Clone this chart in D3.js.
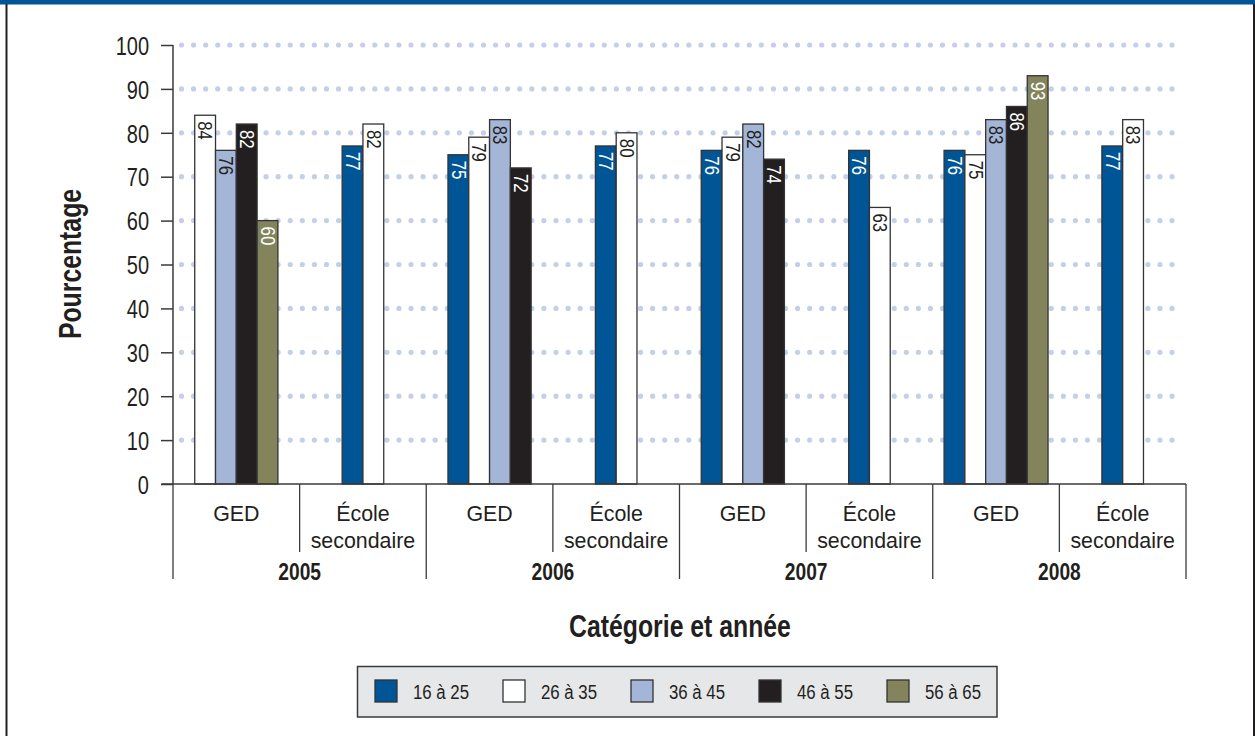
<!DOCTYPE html>
<html>
<head>
<meta charset="utf-8">
<script src="https://cdn.jsdelivr.net/npm/d3@7"></script>
<style>
  body { margin: 0; background: #fff; }
  svg { display: block; }
  text { font-family: "Liberation Sans", Arial, sans-serif; fill: #231f20; }
</style>
</head>
<body>
<script>
'use strict';
(function () {
  // data
  const years = ["2005", "2006", "2007", "2008"];
  const types = ["GED", "École secondaire"];
  const seriesNames = ["16 à 25", "26 à 35", "36 à 45", "46 à 55", "56 à 65"];
  const seriesColors = ["#005596", "#ffffff", "#a4b6d8", "#231f20", "#83845c"];
  const labelColors = ["#ffffff", "#231f20", "#231f20", "#ffffff", "#ffffff"];
  // one value per category: 2005 GED, 2005 École, 2006 GED, ...
  const s16 = [null, 77, 75, 77, 76, 76, 76, 77];
  const s26 = [84, 82, 79, 80, 79, 63, 75, 83];
  const s36 = [76, null, 83, null, 82, null, 83, null];
  const s46 = [82, null, 72, null, 74, null, 86, null];
  const s56 = [60, null, null, null, null, null, 93, null];
  const yTicks = [0, 10, 20, 30, 40, 50, 60, 70, 80, 90, 100];

  const allSeries = [s16, s26, s36, s46, s56];
  const narrow = 0.8; // condensed look: squeeze text horizontally
  let categories = [];
  years.forEach((yr) => types.forEach((t) => categories.push(yr + "|" + t)));

  const width = 1255, height = 736;
  const svg = d3.select('body').append('svg')
    .attr('width', width)
    .attr('height', height);

  function place(sel, x, y, rot, sx) {
    return sel.attr('transform', 'translate(' + x + ',' + y + ')' + (rot ? 'rotate(' + rot + ')' : '') + 'scale(' + (sx || narrow) + ',1)');
  }

  // frame
  svg.append('rect').attr('x', 0).attr('y', 0).attr('width', width).attr('height', 4.5).attr('fill', '#005596');
  svg.append('line').attr('x1', 6.5).attr('x2', 6.5).attr('y1', 4).attr('y2', height)
    .attr('stroke', '#231f20').attr('stroke-width', 2);
  svg.append('line').attr('x1', 1254).attr('x2', 1254).attr('y1', 4).attr('y2', height)
    .attr('stroke', '#231f20').attr('stroke-width', 2);

  let xScale = d3.scaleBand()
    .domain(categories)
    .range([173, 1186])
    .padding(0);
  let yScale = d3.scaleLinear()
    .domain([0, 100])
    .range([484, 45]);
  let barWidth = xScale.bandwidth() / 6.09;

  // dotted grid
  svg.append('g').selectAll('line')
    .data(yTicks.filter((d) => d > 0))
    .enter()
    .append('line')
    .attr('x1', 181.5)
    .attr('x2', 1178)
    .attr('y1', (d) => yScale(d))
    .attr('y2', (d) => yScale(d))
    .attr('stroke', '#c4cfe8')
    .attr('stroke-width', 5.2)
    .attr('stroke-linecap', 'round')
    .attr('stroke-dasharray', '0 12.08');

  // y axis
  let yAxis = d3.axisLeft(yScale).tickValues(yTicks).tickSize(12);
  let yG = svg.append('g')
    .attr('transform', 'translate(173, 0)')
    .call(yAxis);
  yG.select('.domain').remove();
  yG.selectAll('line').attr('stroke', '#3a3a3a').attr('stroke-width', 1.5);
  yG.selectAll('text')
    .attr('x', 0)
    .attr('dy', null)
    .attr('dominant-baseline', 'central')
    .style('font-family', '"Liberation Sans", Arial, sans-serif')
    .style('font-size', '25px')
    .attr('fill', '#231f20')
    .attr('transform', 'translate(-24,1)scale(' + narrow + ',1)');
  svg.append('line')
    .attr('x1', 173).attr('x2', 173)
    .attr('y1', yScale(100)).attr('y2', yScale(0))
    .attr('stroke', '#3a3a3a').attr('stroke-width', 1.5);

  // bars
  let bars = [];
  categories.forEach((cat, ci) => {
    let present = [];
    allSeries.forEach((s, si) => { if (s[ci] !== null) present.push(si); });
    let center = xScale(cat) + xScale.bandwidth() / 2;
    let inner = d3.scaleBand()
      .domain(present)
      .range([center - present.length * barWidth / 2, center + present.length * barWidth / 2]);
    present.forEach((si) => {
      bars.push({ cat: cat, si: si, value: allSeries[si][ci], x: inner(si) });
    });
  });

  let barG = svg.append('g');
  barG.selectAll('rect')
    .data(bars)
    .enter()
    .append('rect')
    .attr('x', (d) => d.x)
    .attr('y', (d) => yScale(d.value))
    .attr('width', barWidth)
    .attr('height', (d) => yScale(0) - yScale(d.value))
    .attr('fill', (d) => seriesColors[d.si])
    .attr('stroke', '#333333')
    .attr('stroke-width', 1.3);

  barG.selectAll('text')
    .data(bars)
    .enter()
    .append('text')
    .each(function (d) {
      place(d3.select(this), d.x + barWidth / 2 + 0.5, yScale(d.value) + 6, 90);
    })
    .attr('dominant-baseline', 'central')
    .style('font-size', '21px')
    .style('fill', (d) => labelColors[d.si])
    .text((d) => d.value);

  // x axis baseline and separators
  svg.append('line')
    .attr('x1', 161.5).attr('x2', 1186)
    .attr('y1', yScale(0)).attr('y2', yScale(0))
    .attr('stroke', '#3a3a3a').attr('stroke-width', 1.5);
  let seps = d3.range(categories.length + 1);
  svg.append('g').selectAll('line')
    .data(seps)
    .enter()
    .append('line')
    .attr('x1', (d) => 173 + d * xScale.bandwidth())
    .attr('x2', (d) => 173 + d * xScale.bandwidth())
    .attr('y1', yScale(0))
    .attr('y2', (d) => d % 2 === 0 ? 579 : 552)
    .attr('stroke', '#3a3a3a').attr('stroke-width', 1.3);

  // category labels
  let catG = svg.append('g');
  categories.forEach((cat) => {
    let type = cat.split('|')[1];
    let cx = xScale(cat) + xScale.bandwidth() / 2;
    let t = catG.append('text')
      .attr('text-anchor', 'middle')
      .style('font-size', '23px');
    place(t, cx, 521, 0, 0.93);
    if (type === "GED") {
      t.text("GED");
    } else {
      t.text("École");
      let t2 = catG.append('text')
        .attr('text-anchor', 'middle')
        .style('font-size', '23px')
        .text("secondaire");
      place(t2, cx, 547.5, 0, 0.93);
    }
  });

  svg.append('g').selectAll('text')
    .data(years)
    .enter()
    .append('text')
    .each(function (d) { place(d3.select(this), xScale(d + "|" + types[1]), 580); })
    .attr('text-anchor', 'middle')
    .style('font-size', '24px')
    .style('font-weight', 'bold')
    .text((d) => d);

  // axis titles
  place(svg.append('text'), 81, 264, -90)
    .attr('text-anchor', 'middle')
    .style('font-size', '31px')
    .style('font-weight', 'bold')
    .text('Pourcentage');

  place(svg.append('text'), 680, 637)
    .attr('text-anchor', 'middle')
    .style('font-size', '31px')
    .style('font-weight', 'bold')
    .text('Catégorie et année');

  // legend
  let legend = svg.append('g');
  legend.append('rect')
    .attr('x', 357.5).attr('y', 666.5)
    .attr('width', 639.5).attr('height', 50.5)
    .attr('fill', '#e6e7e9')
    .attr('stroke', '#3a3a3a').attr('stroke-width', 1.5);
  let legendX = d3.scaleBand()
    .domain(seriesNames)
    .range([375, 1015]);
  let items = legend.selectAll('.item')
    .data(seriesNames)
    .enter()
    .append('g')
    .attr('class', 'item')
    .attr('transform', (d) => 'translate(' + legendX(d) + ', 680)');
  items.append('rect')
    .attr('width', 22).attr('height', 22)
    .attr('fill', (d, i) => seriesColors[i])
    .attr('stroke', '#333333').attr('stroke-width', 1.3);
  items.append('text')
    .each(function () { place(d3.select(this), 38, 12); })
    .attr('dominant-baseline', 'central')
    .style('font-size', '21px')
    .text((d) => d);
})();
</script>
</body>
</html>
